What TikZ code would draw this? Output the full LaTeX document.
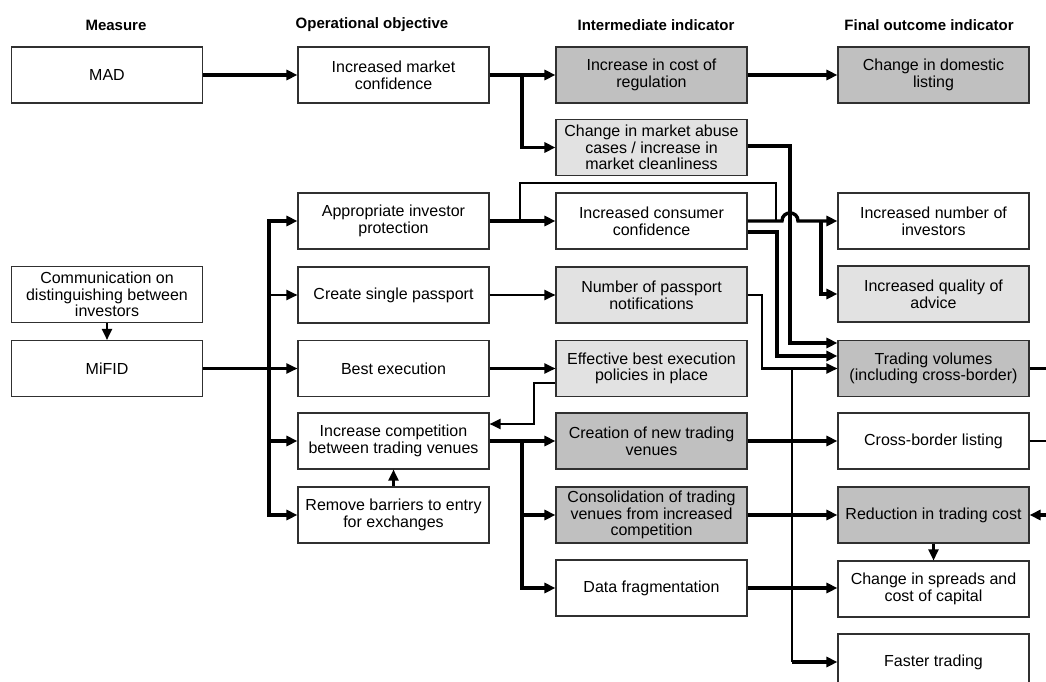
\documentclass[tikz,border=0pt]{standalone}
\usepackage{fontspec}
\setmainfont{Liberation Sans}
\usetikzlibrary{arrows.meta,calc}

\definecolor{boxline}{HTML}{303030}
\definecolor{darkfill}{HTML}{C0C0C0}
\definecolor{lightfill}{HTML}{E2E2E2}

\tikzset{
  box/.style={draw=boxline, line width=1.1pt, fill=white, minimum width=191pt,
    minimum height=56pt, inner sep=1pt, align=center,
    font=\fontsize{16}{16.6}\selectfont},
  greybox/.style={box, fill=darkfill},
  dotbox/.style={box, fill=lightfill},
  head/.style={font=\bfseries\fontsize{15}{17}\selectfont},
  thk/.style={line width=3.4pt},
  med/.style={line width=2.2pt},
  thn/.style={line width=1.3pt},
  tip/.style={-{Triangle[length=11pt,width=10pt]}},
  bothtips/.style={{Triangle[length=11pt,width=10pt]}-{Triangle[length=11pt,width=10pt]}},
}

\begin{document}
\begin{tikzpicture}[x=1pt,y=-1pt]
\useasboundingbox (0,0) rectangle (1046,682);
\clip (0,0) rectangle (1046,682);

% column headings
\node[head] (hM) at (116,25) {Measure};
\node[head] (hO) at (372,25) {Operational objective};
\node[head] (hI) at (656,25) {Intermediate indicator};
\node[head] (hF) at (929,25) {Final outcome indicator};

% boxes
\node[box] (mad) at (107,75) {MAD};
\node[box] (imc) at (393.5,75) {Increased market\\confidence};
\node[greybox] (cost) at (651.5,75) {Increase in cost of\\regulation};
\node[greybox] (dom) at (933.5,75) {Change in domestic\\listing};
\node[dotbox] (abuse) at (651.5,147.5) {Change in market abuse\\cases / increase in\\market cleanliness};
\node[box] (aip) at (393.5,221) {Appropriate investor\\protection};
\node[box] (icc) at (651.5,221) {Increased consumer\\confidence};
\node[box] (inv) at (933.5,221) {Increased number of\\investors};
\node[box] (comm) at (107,294.5) {Communication on\\distinguishing between\\investors};
\node[box] (csp) at (393.5,295) {Create single passport};
\node[dotbox] (npn) at (651.5,295) {Number of passport\\notifications};
\node[dotbox] (qual) at (933.5,294) {Increased quality of\\advice};
\node[box] (mifid) at (107,368.5) {MiFID};
\node[box] (best) at (393.5,368.5) {Best execution};
\node[dotbox] (ebe) at (651.5,368.5) {Effective best execution\\policies in place};
\node[greybox] (tv) at (933.5,368.5) {Trading volumes\\(including cross-border)};
\node[box] (comp) at (393.5,441) {Increase competition\\between trading venues};
\node[greybox] (cntv) at (651.5,441) {Creation of new trading\\venues};
\node[box] (cbl) at (933.5,441) {Cross-border listing};
\node[box] (rbe) at (393.5,515) {Remove barriers to entry\\for exchanges};
\node[greybox] (cons) at (651.5,515) {Consolidation of trading\\venues from increased\\competition};
\node[greybox] (rtc) at (933.5,515) {Reduction in trading cost};
\node[box] (dfr) at (651.5,588) {Data fragmentation};
\node[box] (spr) at (933.5,589) {Change in spreads and\\cost of capital};
\node[box] (fast) at (933.5,662) {Faster trading};

% routing guides
\coordinate (xBus) at (269,0);
\coordinate (xMC) at (522,0);
\coordinate (xLoopL) at (520,0);
\coordinate (xLoopR) at (776,0);
\coordinate (xCC) at (777,0);
\coordinate (xNP) at (762,0);
\coordinate (xAb) at (790,0);
\coordinate (xFT) at (792,0);
\coordinate (xQ) at (821,0);
\coordinate (xEB) at (534,0);
\coordinate (yAb) at (0,146);
\coordinate (yLoop) at (0,183);
\coordinate (yCCb) at (0,232);
\coordinate (yTV1) at (0,343);
\coordinate (yTV2) at (0,356);
\coordinate (yEB) at (0,383);
\coordinate (yCmp) at (0,424);
\coordinate (edgeTV) at (1046,368.5);
\coordinate (edgeCB) at (1046,441);
\coordinate (edgeRT) at (1046,515);

% MAD chain
\draw[thk,tip] (mad) -- (imc);
\draw[thk,tip] (imc) -- (cost);
\draw[thk,tip] (xMC |- imc.east) |- (abuse.west);
\draw[thk,tip] (cost) -- (dom);
\draw[thk,tip] (abuse.east |- yAb) -| (xAb |- yTV1) -- (tv.west |- yTV1);

% investor protection and confidence
\draw[thk,tip] (aip) -- (icc);
\draw[thn] (xLoopL |- aip.east) |- (xLoopR |- yLoop) -- (xLoopR |- icc.east);
\draw[thk,tip] (icc.east) -- ($(xAb |- icc.east)+(-8,0)$)
  .. controls +(0,-10.7) and +(0,-10.7) .. ($(xAb |- icc.east)+(8,0)$) -- (inv.west);
\draw[thk,tip] (xQ |- icc.east) |- (qual.west);
\draw[thk,tip] (icc.east |- yCCb) -| (xCC |- yTV2) -- (tv.west |- yTV2);

% passport
\draw[med,tip] (csp) -- (npn);
\draw[med,tip] (npn.east) -| (xNP |- tv.west) -- (tv.west);
\draw[med] (xFT |- tv.west) -- (xFT |- fast.west);
\draw[thk,tip] (xFT |- fast.west) -- (fast.west);

% MiFID and its objectives
\draw[med,tip] (comm) -- (mifid);
\draw[med,tip] (mifid) -- (best);
\draw[thk,bothtips] (aip.west) -| (xBus |- rbe.west) -- (rbe.west);
\draw[med,tip] (xBus |- csp.west) -- (csp.west);
\draw[thk,tip] (xBus |- comp.west) -- (comp.west);

% best execution and competition
\draw[med,tip] (best) -- (ebe);
\draw[med,tip] (ebe.west |- yEB) -| (xEB |- yCmp) -- (comp.east |- yCmp);
\draw[med,tip] (rbe) -- (comp);
\draw[thk,tip] (comp.east) -- (cntv.west);
\draw[thk,tip] (xMC |- comp.east) |- (dfr.west);
\draw[thk,tip] (xMC |- cons.west) -- (cons.west);

% final outcomes
\draw[thk,tip] (cntv) -- (cbl);
\draw[thk,tip] (cons) -- (rtc);
\draw[thk,tip] (dfr.east) -- (spr.west |- dfr.east);
\draw[med,tip] (rtc) -- (spr);
\draw[thk] (tv.east) -- (edgeTV);
\draw[thn] (cbl.east) -- (edgeCB);
\draw[thk,tip] (edgeRT) -- (rtc.east);
\end{tikzpicture}
\end{document}
